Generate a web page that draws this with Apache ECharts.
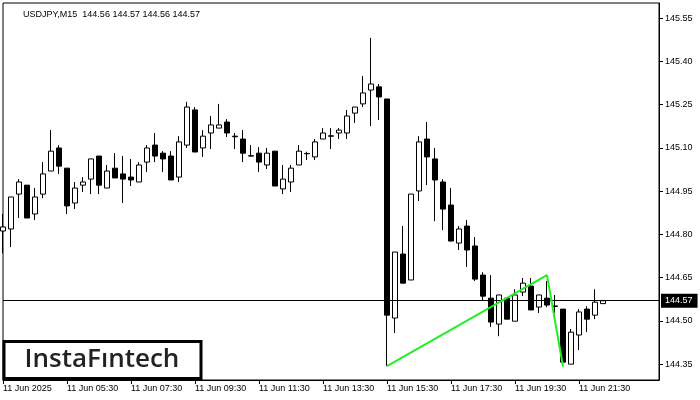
<!DOCTYPE html>
<html><head><meta charset="utf-8">
<script src="https://cdn.jsdelivr.net/npm/echarts@6/dist/echarts.min.js"></script>
<style>html,body{margin:0;padding:0;background:#fff}#c{width:700px;height:400px}</style>
</head><body><div id="c"></div>
<script>
const opens  = [144.812,144.819,144.940,144.971,144.871,144.940,145.020,145.100,145.030,144.909,
                144.971,144.992,145.072,144.961,145.030,145.010,144.999,144.982,145.051,145.110,
                145.082,145.072,144.999,145.110,145.232,145.100,145.152,145.169,145.190,145.141,
                145.131,145.073,145.082,145.041,145.089,144.958,144.982,145.041,145.081,145.069,
                145.131,145.142,145.152,145.152,145.221,145.253,145.301,145.312,145.270,144.510,
                144.732,144.642,144.951,145.131,145.062,144.982,144.902,144.770,144.829,144.760,
                144.659,144.579,144.489,144.579,144.499,144.600,144.621,144.548,144.579,144.552,
                144.541,144.350,144.451,144.541,144.520,144.560];
const closes = [144.826,144.930,144.982,144.857,144.930,145.010,145.089,145.037,144.899,144.961,
                144.982,145.062,144.971,145.020,144.996,144.992,144.989,145.041,145.100,145.072,
                145.062,144.989,145.121,145.242,145.086,145.141,145.180,145.180,145.152,145.139,
                145.082,145.072,145.051,145.082,144.968,144.992,145.030,145.089,145.080,145.121,
                145.152,145.141,145.162,145.211,145.242,145.291,145.322,145.277,144.520,144.739,
                144.631,144.940,145.121,145.069,144.989,144.888,144.777,144.819,144.746,144.645,
                144.586,144.496,144.590,144.506,144.590,144.631,144.538,144.590,144.555,144.550,
                144.357,144.461,144.531,144.506,144.565,144.570];
const lows   = [144.735,144.756,144.857,144.857,144.850,144.926,145.020,145.010,144.871,144.888,
                144.947,144.940,144.940,144.961,144.996,144.909,144.968,144.982,145.017,145.051,
                145.017,144.989,144.982,145.100,145.086,145.069,145.096,145.169,145.138,145.096,
                145.051,145.071,145.017,145.027,144.968,144.940,144.947,145.041,145.058,145.058,
                145.131,145.096,145.131,145.131,145.187,145.242,145.176,145.197,144.343,144.458,
                144.631,144.642,144.916,144.971,144.846,144.815,144.777,144.746,144.687,144.638,
                144.569,144.479,144.447,144.506,144.499,144.586,144.538,144.527,144.548,144.527,
                144.350,144.350,144.399,144.461,144.506,144.560];
const highs  = [144.871,144.930,144.992,144.971,144.961,145.051,145.162,145.110,145.030,144.982,
                144.999,145.062,145.072,145.041,145.082,145.072,145.062,145.051,145.110,145.152,
                145.089,145.089,145.141,145.260,145.242,145.162,145.211,145.253,145.200,145.152,
                145.162,145.110,145.103,145.100,145.089,145.041,145.041,145.110,145.087,145.131,
                145.169,145.169,145.169,145.232,145.242,145.350,145.482,145.322,145.270,144.739,
                144.829,144.940,145.141,145.190,145.100,144.992,144.961,144.829,144.850,144.791,
                144.669,144.659,144.590,144.579,144.610,144.649,144.649,144.590,144.638,144.590,
                144.541,144.472,144.541,144.551,144.610,144.570];
const tickLabels = ['11 Jun 2025','11 Jun 05:30','11 Jun 07:30','11 Jun 09:30','11 Jun 11:30',
                    '11 Jun 13:30','11 Jun 15:30','11 Jun 17:30','11 Jun 19:30','11 Jun 21:30'];
const yTicks = [144.35,144.50,144.65,144.80,144.95,145.10,145.25,145.40,145.55];
const patternIdx = [48,68,70];
const patternPrice = [144.343,144.659,144.342];
const lastPrice = 144.57;
const titleText = 'USDJPY,M15  144.56 144.57 144.56 144.57';
const slotCount = 83;
const startMinutes = 3*60+30;

const categories = [];
for (let i = 0; i < slotCount; i++) {
  const m = startMinutes + 15*i;
  const hh = String(Math.floor(m/60)%24).padStart(2,'0');
  const mm = String(m%60).padStart(2,'0');
  categories.push(hh + ':' + mm);
}
const candleData = opens.map((o,i)=>[o, closes[i], lows[i], highs[i]]);
const patternData = patternIdx.map((x,i)=>[x, patternPrice[i]]);
const FONT = '"Liberation Sans", Arial, sans-serif';
const showIdx = (idx) => idx % 8 === 0 && idx/8 < tickLabels.length;

const chart = echarts.init(document.getElementById('c'), null, {renderer:'canvas'});
chart.setOption({
  animation: false,
  backgroundColor: '#fff',
  title: {
    text: titleText, left: 18, top: 5,
    textStyle: {fontSize: 9, fontWeight: 'normal', color: '#000', fontFamily: FONT}
  },
  grid: {left: 3, right: 41, top: 3, bottom: 20, show: true, borderColor: '#000', borderWidth: 1, containLabel: false},
  xAxis: {
    type: 'category', data: categories, boundaryGap: false,
    axisLine: {show: true, lineStyle: {color: '#000', width: 1}},
    axisTick: {show: true, interval: showIdx, length: 4, lineStyle: {color: '#000'}},
    axisLabel: {
      interval: showIdx, align: 'left', margin: 4, color: '#000', fontSize: 9, fontFamily: FONT,
      formatter: (v, idx) => tickLabels[idx/8] || ''
    },
    splitLine: {show: false}
  },
  yAxis: {
    type: 'value', position: 'right', min: 144.295, max: 145.603,
    axisLine: {show: true, lineStyle: {color: '#000', width: 1}},
    axisTick: {show: true, length: 4, lineStyle: {color: '#000'}, customValues: yTicks},
    axisLabel: {customValues: yTicks, formatter: v => v.toFixed(2), margin: 6, color: '#000', fontSize: 9, fontFamily: FONT},
    splitLine: {show: false}
  },
  graphic: [{
    type: 'group', z: 100,
    children: [
      {type: 'rect', shape: {x: 4, y: 341.5, width: 197, height: 37}, style: {fill: '#fff', stroke: '#000', lineWidth: 3}},
      {type: 'text', style: {text: 'InstaFıntech', x: 102, y: 360, align: 'center', verticalAlign: 'middle',
        font: '600 26px "Open Sans", sans-serif', fill: '#222'}}
    ]
  }],
  series: [{
    type: 'candlestick', data: candleData, barWidth: 5,
    itemStyle: {color: '#fff', color0: '#000', borderColor: '#000', borderColor0: '#000', borderColorDoji: '#000', borderWidth: 1},
    markLine: {
      silent: true, symbol: 'none', animation: false,
      lineStyle: {color: '#000', width: 1, type: 'solid'},
      label: {show: true, position: 'end', distance: 2, formatter: () => lastPrice.toFixed(2),
        backgroundColor: '#000', color: '#fff', padding: [3, 5, 2, 4], fontSize: 9, fontFamily: FONT},
      data: [{yAxis: lastPrice}]
    }
  }, {
    type: 'line', data: patternData, symbol: 'none', z: 5,
    lineStyle: {color: '#22ee22', width: 2}
  }]
});
</script></body></html>
